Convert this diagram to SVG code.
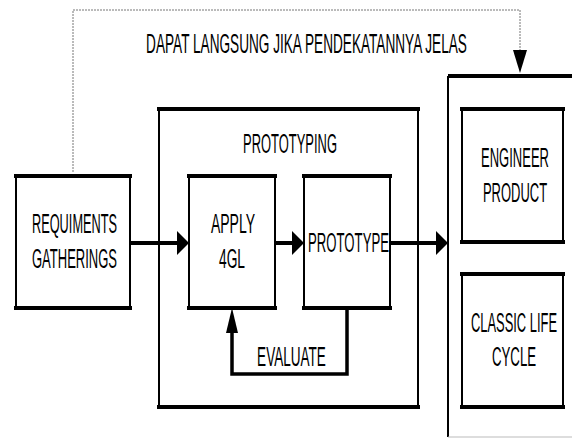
<svg xmlns="http://www.w3.org/2000/svg" width="572" height="439" viewBox="0 0 572 439">
<style>
.box{fill:#fff;stroke:#000;stroke-width:2}
.edge{stroke:#000;stroke-width:4;stroke-linecap:square}
.t{font-family:"Liberation Sans",Arial,sans-serif;font-size:28px;fill:#000;text-anchor:middle}
.flow{fill:none;stroke:#000;stroke-width:4}
.loop{fill:none;stroke:#000;stroke-width:3.5}
.dash{fill:none;stroke:#777;stroke-width:1;stroke-dasharray:2 1}
</style>
<defs>
<marker id="arrH" markerUnits="userSpaceOnUse" markerWidth="12" markerHeight="24" refX="0" refY="12" orient="auto"><path d="M0,0 L12,12 L0,24 Z" fill="#000"/></marker>
<marker id="arrV" markerUnits="userSpaceOnUse" markerWidth="25" markerHeight="12" refX="0" refY="6" orient="auto"><path d="M0,0 L25,6 L0,12 Z" fill="#000"/></marker>
<marker id="arrD" markerUnits="userSpaceOnUse" markerWidth="23" markerHeight="14" refX="0" refY="7" orient="auto"><path d="M0,0 L23,7 L0,14 Z" fill="#000"/></marker>
</defs>
<rect width="572" height="439" fill="#fff"/>

<g id="right-container">
<path d="M448,437 L448,76" fill="none" stroke="#000" stroke-width="2"/>
<line x1="448" y1="76" x2="572" y2="76" stroke="#000" stroke-width="4"/>
<line x1="448" y1="437" x2="572" y2="437" stroke="#bbb" stroke-width="1"/>
</g>

<g id="prototyping">
<rect class="box" x="159" y="109" width="259" height="298"/>
<line class="edge" x1="159" y1="109" x2="418" y2="109"/>
<line class="edge" x1="159" y1="407" x2="418" y2="407"/>
<text class="t" transform="translate(290,153) scale(0.465,1)" textLength="202" lengthAdjust="spacingAndGlyphs">PROTOTYPING</text>
</g>

<g id="requirements">
<rect class="box" x="16" y="176" width="114" height="132"/>
<line class="edge" x1="16" y1="176" x2="130" y2="176"/>
<line class="edge" x1="16" y1="308" x2="130" y2="308"/>
<text class="t" transform="translate(74.5,233) scale(0.465,1)" textLength="183" lengthAdjust="spacingAndGlyphs">REQUIMENTS</text>
<text class="t" transform="translate(74.5,268) scale(0.465,1)" textLength="183" lengthAdjust="spacingAndGlyphs">GATHERINGS</text>
</g>

<g id="apply4gl">
<rect class="box" x="189" y="176" width="86" height="132"/>
<line class="edge" x1="189" y1="176" x2="275" y2="176"/>
<line class="edge" x1="189" y1="308" x2="275" y2="308"/>
<text class="t" transform="translate(233,233) scale(0.465,1)" textLength="95" lengthAdjust="spacingAndGlyphs">APPLY</text>
<text class="t" transform="translate(232,268) scale(0.465,1)" textLength="56" lengthAdjust="spacingAndGlyphs">4GL</text>
</g>

<g id="prototype">
<rect class="box" x="304" y="176" width="86" height="132"/>
<line class="edge" x1="304" y1="176" x2="390" y2="176"/>
<line class="edge" x1="304" y1="308" x2="390" y2="308"/>
<text class="t" transform="translate(348.5,252) scale(0.465,1)" textLength="174" lengthAdjust="spacingAndGlyphs">PROTOTYPE</text>
</g>

<g id="engineer-product">
<rect class="box" x="462" y="109" width="101" height="133"/>
<line class="edge" x1="462" y1="109" x2="563" y2="109"/>
<line class="edge" x1="462" y1="242" x2="563" y2="242"/>
<text class="t" transform="translate(515,167) scale(0.465,1)" textLength="146" lengthAdjust="spacingAndGlyphs">ENGINEER</text>
<text class="t" transform="translate(515,202) scale(0.465,1)" textLength="138" lengthAdjust="spacingAndGlyphs">PRODUCT</text>
</g>

<g id="classic-life-cycle">
<rect class="box" x="462" y="274" width="101" height="133"/>
<line class="edge" x1="462" y1="274" x2="563" y2="274"/>
<line class="edge" x1="462" y1="407" x2="563" y2="407"/>
<text class="t" transform="translate(514,332) scale(0.465,1)" textLength="185" lengthAdjust="spacingAndGlyphs">CLASSIC LIFE</text>
<text class="t" transform="translate(514,366) scale(0.465,1)" textLength="95" lengthAdjust="spacingAndGlyphs">CYCLE</text>
</g>

<g id="connectors">
<path class="dash" d="M73,172 L73,10 L520,10 L520,50" marker-end="url(#arrD)"/>
<text class="t" transform="translate(306.5,53) scale(0.465,1)" textLength="690" lengthAdjust="spacingAndGlyphs">DAPAT LANGSUNG JIKA PENDEKATANNYA JELAS</text>
<line class="flow" x1="130" y1="243" x2="177" y2="243" marker-end="url(#arrH)"/>
<line class="flow" x1="275" y1="243" x2="292" y2="243" marker-end="url(#arrH)"/>
<line class="flow" x1="390" y1="243" x2="436" y2="243" marker-end="url(#arrH)"/>
<path class="loop" d="M347,308 L347,374 L232,374 L232,333" marker-end="url(#arrV)"/>
<text class="t" transform="translate(291.5,366) scale(0.465,1)" textLength="148" lengthAdjust="spacingAndGlyphs">EVALUATE</text>
</g>
</svg>
